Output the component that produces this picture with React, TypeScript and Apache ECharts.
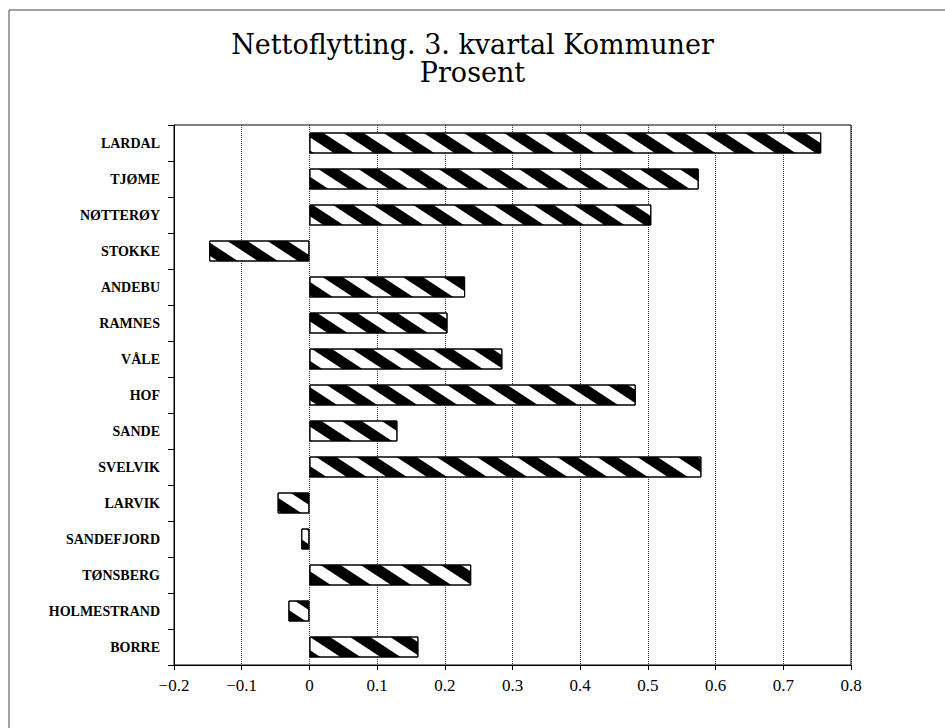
import React, { useEffect, useRef } from "react";
import * as echarts from "echarts";

const categories = [
  "LARDAL", "TJØME", "NØTTERØY", "STOKKE", "ANDEBU", "RAMNES", "VÅLE", "HOF",
  "SANDE", "SVELVIK", "LARVIK", "SANDEFJORD", "TØNSBERG", "HOLMESTRAND", "BORRE",
];
const values = [
  0.756, 0.575, 0.505, -0.148, 0.23, 0.204, 0.285, 0.482,
  0.13, 0.579, -0.047, -0.012, 0.239, -0.031, 0.161,
];
const titleLines = ["Nettoflytting. 3. kvartal Kommuner", "Prosent"];
const xMin = -0.2;
const xMax = 0.8;
const xStep = 0.1;

export default function App() {
  const ref = useRef<HTMLDivElement>(null);
  useEffect(() => {
    document.body.style.margin = "0";
    const chart = echarts.init(ref.current!, null, { renderer: "svg" });
    const serif = "Liberation Serif";
    const titleStyle = {
      fontFamily: "DejaVu Serif",
      fontWeight: "normal",
      fontSize: 27,
      lineHeight: 27,
      color: "#000",
    };
    chart.setOption({
      animation: false,
      backgroundColor: "#fff",
      title: [
        { text: titleLines[0], left: "center", top: 31, padding: 0, textStyle: titleStyle },
        { text: titleLines[1], left: "center", top: 59, padding: 0, textStyle: titleStyle },
      ],
      graphic: [
        { type: "line", shape: { x1: 9, y1: 10, x2: 945, y2: 10 }, style: { stroke: "#444", lineWidth: 1 } },
        { type: "line", shape: { x1: 9, y1: 10, x2: 9, y2: 728 }, style: { stroke: "#444", lineWidth: 1 } },
      ],
      grid: {
        left: 174,
        right: 94,
        top: 125,
        bottom: 63,
        show: true,
        borderColor: "#000",
        borderWidth: 1,
        backgroundColor: "transparent",
      },
      xAxis: {
        type: "value",
        min: xMin,
        max: xMax,
        interval: xStep,
        axisLine: { show: true, onZero: false, lineStyle: { color: "#000", width: 1 } },
        axisTick: { show: true, length: 5, lineStyle: { color: "#000" } },
        splitLine: { show: true, lineStyle: { type: "dotted", color: "#333", width: 1 } },
        axisLabel: {
          margin: 12,
          fontFamily: serif,
          fontSize: 17,
          color: "#000",
          formatter: (v: number) => {
            const r = Math.round(v * 10) / 10;
            if (r === 0) return "0";
            return (r < 0 ? "\u2212" : "") + Math.abs(r).toFixed(1);
          },
        },
      },
      yAxis: {
        type: "category",
        data: categories,
        inverse: true,
        axisLine: { show: true, onZero: false, lineStyle: { color: "#000", width: 1 } },
        axisTick: { show: true, length: 6, lineStyle: { color: "#000" } },
        splitLine: { show: false },
        axisLabel: {
          margin: 14,
          fontFamily: serif,
          fontWeight: "bold",
          fontSize: 14,
          color: "#000",
        },
      },
      series: [
        {
          type: "bar",
          data: values,
          barWidth: 21,
          itemStyle: {
            color: "#fff",
            borderColor: "#000",
            borderWidth: 1,
            decal: {
              symbol: "rect",
              symbolSize: 1,
              color: "#000",
              dashArrayX: [1, 0],
              dashArrayY: [11, 11],
              rotation: 0.58,
            },
          },
        },
      ],
    });
    return () => chart.dispose();
  }, []);
  return <div ref={ref} style={{ width: 945, height: 728 }} />;
}
